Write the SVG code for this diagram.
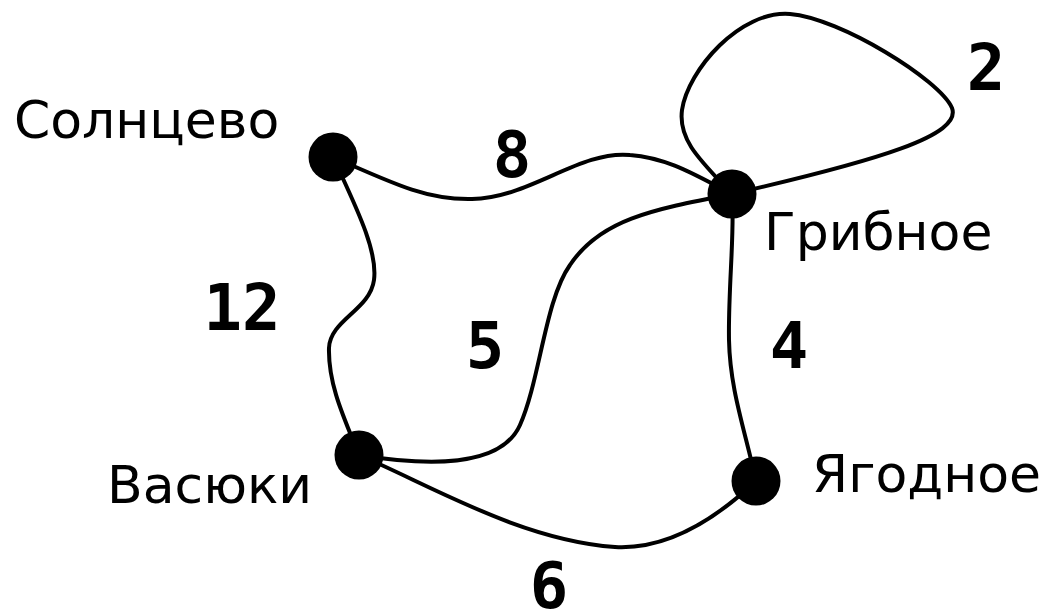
<svg xmlns="http://www.w3.org/2000/svg" width="1044" height="613" viewBox="0 0 1044 613">
<style>
.edge{fill:none;stroke:#000;stroke-width:4;stroke-linecap:round}
.node{fill:#000}
.name{font-family:"DejaVu Sans",Verdana,sans-serif;font-size:52px;fill:#000}
.w{font-family:"DejaVu Sans Mono",monospace;font-weight:bold;font-size:64px;fill:#000;text-anchor:middle}
</style>
<rect width="1044" height="613" fill="#fff"/>
<g id="edges">
<path class="edge" d="M333,157 C400,187 430,200 472,199 C530,198 580,150 630,155 C670,158 700,178 732,194"/>
<path class="edge" d="M333,157 C355,205 378,250 374,280 C370,310 330,320 329,348 C328,385 345,420 359,455"/>
<path class="edge" d="M359,455 C420,465 500,470 520,425 C540,380 545,300 570,265 C600,220 650,210 732,194"/>
<path class="edge" d="M732,194 C735,230 728,290 729,340 C730,390 745,430 756,481"/>
<path class="edge" d="M359,455 C430,485 520,540 615,547 C670,550 720,515 756,481"/>
<path class="edge" d="M732,194 C700,160 678,140 682,110 C688,70 740,10 790,14 C840,18 940,80 952,108 C962,135 880,160 732,194"/>
</g>
<g id="n-solntsevo"><circle class="node" cx="333" cy="157" r="24.5"/><text class="name" x="14" y="138">Солнцево</text></g>
<g id="n-gribnoe"><circle class="node" cx="732" cy="194" r="24.5"/><text class="name" x="764" y="250">Грибное</text></g>
<g id="n-vasyuki"><circle class="node" cx="359" cy="455" r="24.5"/><text class="name" x="107" y="503">Васюки</text></g>
<g id="n-yagodnoe"><circle class="node" cx="756" cy="481" r="24.5"/><text class="name" x="812" y="492">Ягодное</text></g>
<g id="weights">
<text class="w" x="512" y="177">8</text>
<text class="w" x="986" y="90">2</text>
<text class="w" x="242" y="330">12</text>
<text class="w" x="485" y="368">5</text>
<text class="w" x="789" y="368">4</text>
<text class="w" x="549" y="608">6</text>
</g>
</svg>
